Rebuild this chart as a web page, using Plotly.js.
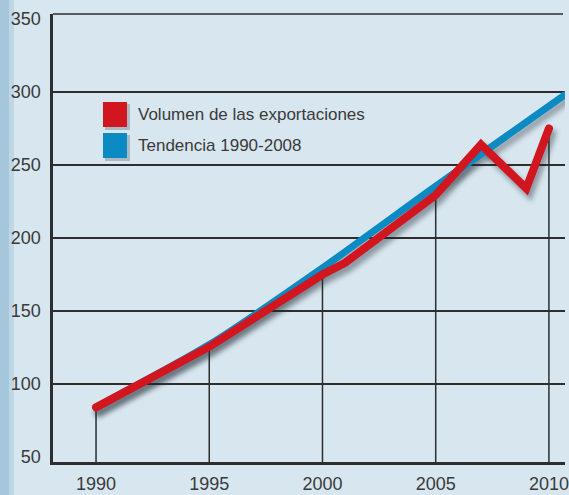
<!DOCTYPE html>
<html>
<head>
<meta charset="utf-8">
<script src="https://cdn.plot.ly/plotly-3.0.1.min.js"></script>
<style>
html, body { margin: 0; padding: 0; background: #d7e6ef; }
#chart { width: 569px; height: 495px; }
.scatterlayer path.js-line { stroke-linecap: round; }
g.tracesh1, g.tracesh2 { filter: blur(2.5px); }
</style>
</head>
<body>
<div id="chart"></div>
<script>
// ---- data ----
const exportYears  = [1990, 1995, 2000, 2001, 2005, 2007, 2009, 2010];
const exportVolume = [84, 125.5, 175, 183, 229.5, 264, 234, 275];
const trendYears   = [1990, 1995, 2000, 2005, 2010.7];
const trendValues  = [84, 127, 179.5, 235.5, 298];
const xTickVals    = [1990, 1995, 2000, 2005, 2010];
const yTickVals    = [50, 100, 150, 200, 250, 300, 350];
const yGridVals    = [100, 150, 200, 250, 300];
const seriesNames  = ['Volumen de las exportaciones', 'Tendencia 1990-2008'];

// ---- layout geometry ----
const W = 569, H = 495;
const M = { l: 53, r: 4, t: 14, b: 33 };
const plotW = W - M.l - M.r, plotH = H - M.t - M.b;
const xRange = [1988.1, 2010.71];
const yRange = [46.6, 353.4];
const pxX = plotW / (xRange[1] - xRange[0]);
const pxY = plotH / (yRange[1] - yRange[0]);
const shadow = { dx: 3, dy: 5 };
const xShRange = [xRange[0] - shadow.dx / pxX, xRange[1] - shadow.dx / pxX];
const yShRange = [yRange[0] + shadow.dy / pxY, yRange[1] + shadow.dy / pxY];

const RED = '#d1161f', BLUE = '#0b8ac4', INK = '#2e2e2e', TXT = '#3a3a3a';
const FONT = 'Liberation Sans, Arial, Helvetica, sans-serif';

// drop lines from the axis bottom to the export line at each labelled year
const dropX = [], dropY = [];
xTickVals.forEach(yr => {
  const i = exportYears.indexOf(yr);
  if (i >= 0) { dropX.push(yr, yr, null); dropY.push(yRange[0], exportVolume[i], null); }
});

const traces = [
  { x: dropX, y: dropY, xaxis: 'x', yaxis: 'y', mode: 'lines',
    line: { color: INK, width: 1.5 }, hoverinfo: 'skip', showlegend: false },
  { x: trendYears, y: trendValues, xaxis: 'x2', yaxis: 'y2', mode: 'lines', uid: 'sh2',
    line: { color: 'rgba(30,40,50,0.35)', width: 8, shape: 'spline', smoothing: 0.6 },
    hoverinfo: 'skip', showlegend: false },
  { x: exportYears, y: exportVolume, xaxis: 'x2', yaxis: 'y2', mode: 'lines', uid: 'sh1',
    line: { color: 'rgba(30,40,50,0.4)', width: 9 }, hoverinfo: 'skip', showlegend: false },
  { x: trendYears, y: trendValues, xaxis: 'x3', yaxis: 'y3', mode: 'lines', name: seriesNames[1],
    line: { color: BLUE, width: 7, shape: 'spline', smoothing: 0.6 }, showlegend: false },
  { x: exportYears, y: exportVolume, xaxis: 'x3', yaxis: 'y3', mode: 'lines', name: seriesNames[0],
    line: { color: RED, width: 8 }, showlegend: false }
];

// pixel -> paper helpers for decorations
const px2x = p => (p - M.l) / plotW;
const px2y = p => (H - M.b - p) / plotH;

const shapes = [
  // left darker strip of the background
  { type: 'rect', xref: 'paper', yref: 'paper', x0: px2x(0), x1: px2x(9), y0: px2y(H), y1: px2y(0),
    fillcolor: '#a6c6db', line: { width: 0 }, layer: 'below' },
  { type: 'rect', xref: 'paper', yref: 'paper', x0: px2x(9), x1: px2x(14), y0: px2y(H), y1: px2y(0),
    fillcolor: '#bfd6e5', line: { width: 0 }, layer: 'below' },
  // top frame line
  { type: 'line', xref: 'paper', yref: 'paper', x0: 0, x1: px2x(563), y0: 1, y1: 1,
    line: { color: INK, width: 1.6 } },
  // legend swatch shadows
  { type: 'rect', xref: 'paper', yref: 'paper', x0: px2x(105), x1: px2x(130), y0: px2y(130), y1: px2y(104),
    fillcolor: 'rgba(40,50,60,0.25)', line: { width: 0 } },
  { type: 'rect', xref: 'paper', yref: 'paper', x0: px2x(105), x1: px2x(130), y0: px2y(161), y1: px2y(135),
    fillcolor: 'rgba(40,50,60,0.25)', line: { width: 0 } },
  // legend swatches
  { type: 'rect', xref: 'paper', yref: 'paper', x0: px2x(103), x1: px2x(127), y0: px2y(127), y1: px2y(102),
    fillcolor: RED, line: { width: 0 } },
  { type: 'rect', xref: 'paper', yref: 'paper', x0: px2x(103), x1: px2x(127), y0: px2y(158), y1: px2y(133),
    fillcolor: BLUE, line: { width: 0 } }
];

const annotations = [
  { xref: 'paper', yref: 'paper', x: px2x(136), y: px2y(114.5), xanchor: 'left', yanchor: 'middle',
    text: seriesNames[0], showarrow: false, font: { family: FONT, size: 17, color: TXT } },
  { xref: 'paper', yref: 'paper', x: px2x(136), y: px2y(145.5), xanchor: 'left', yanchor: 'middle',
    text: seriesNames[1], showarrow: false, font: { family: FONT, size: 17, color: TXT } }
];

const layout = {
  width: W, height: H,
  margin: M,
  paper_bgcolor: '#d7e6ef',
  plot_bgcolor: 'rgba(0,0,0,0)',
  font: { family: FONT, size: 17, color: TXT },
  showlegend: false,
  xaxis: { range: xRange, tickmode: 'array', tickvals: xTickVals, ticktext: xTickVals.map(String),
    showgrid: false, zeroline: false, showline: true, linecolor: INK, linewidth: 3,
    ticks: '', ticklabelstandoff: 3, tickfont: { family: FONT, size: 18, color: TXT }, fixedrange: true },
  yaxis: { range: yRange, tickmode: 'array', tickvals: yTickVals, ticktext: yTickVals.map(String),
    showgrid: false, zeroline: false, showline: true, linecolor: INK, linewidth: 2.6,
    ticks: '', ticklabelstandoff: 6, tickfont: { family: FONT, size: 18, color: TXT }, fixedrange: true },
  xaxis2: { overlaying: 'x', range: xShRange, visible: false, fixedrange: true },
  yaxis2: { overlaying: 'y', range: yShRange, visible: false, fixedrange: true },
  xaxis3: { overlaying: 'x', range: xRange, visible: false, fixedrange: true },
  yaxis3: { overlaying: 'y', range: yRange, tickmode: 'array', tickvals: yGridVals,
    showgrid: true, gridcolor: INK, gridwidth: 1.6, showticklabels: false, zeroline: false,
    showline: false, ticks: '', fixedrange: true },
  shapes: shapes,
  annotations: annotations
};

Plotly.newPlot('chart', traces, layout, { displayModeBar: false, staticPlot: true });
</script>
</body>
</html>
